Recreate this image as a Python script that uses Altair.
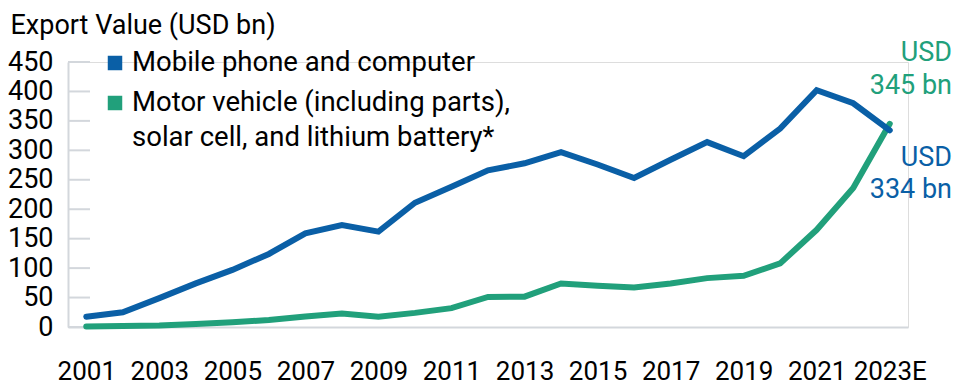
import altair as alt
import pandas as pd

years = ["2001", "2002", "2003", "2004", "2005", "2006", "2007", "2008", "2009",
         "2010", "2011", "2012", "2013", "2014", "2015", "2016", "2017", "2018",
         "2019", "2020", "2021", "2022", "2023E"]
mobile = [17.5, 25, 49, 74, 97, 124, 159, 173, 162, 211, 238, 266, 278, 297,
          276, 253, 284, 314, 290, 337, 402, 380, 334]
motor = [1, 1.5, 2.5, 5, 8, 12, 18, 23, 17.5, 24, 32, 51, 51.5, 74, 70, 67,
         74, 83, 87, 108, 165, 236, 345]
series = ["Mobile phone and computer",
          "Motor vehicle (including parts), solar cell, and lithium battery*"]
legend_lines = [["Mobile phone and computer"],
                ["Motor vehicle (including parts),", "solar cell, and lithium battery*"]]
x_labels = ["2001", "2003", "2005", "2007", "2009", "2011", "2013", "2015",
            "2017", "2019", "2021", "2023E"]
y_ticks = [0, 50, 100, 150, 200, 250, 300, 350, 400, 450]
end_labels = [["USD", "345 bn"], ["USD", "334 bn"]]

BLUE = "#0a5fa6"
GREEN = "#21a07b"
GRAY = "#d3d7dc"
FONT = "Roboto"
FS = 27

df_blue = pd.DataFrame({"year": years, "value": mobile, "series": series[0]})
df_green = pd.DataFrame({"year": years, "value": motor, "series": series[1]})
df_ticks = pd.DataFrame({"value": y_ticks})
one = pd.DataFrame({"k": [0]})

x_enc = alt.X("year:O", sort=years,
              scale=alt.Scale(type="point", padding=0.5),
              axis=alt.Axis(values=x_labels, labelAngle=0, title=None, ticks=False,
                            grid=False, domainColor=GRAY, domainWidth=2,
                            labelFontSize=26, labelPadding=31, labelColor="black",
                            labelFont=FONT))
y_enc = alt.Y("value:Q", scale=alt.Scale(domain=[0, 450], nice=False, zero=True),
              axis=alt.Axis(values=y_ticks, ticks=False, grid=False,
                            domainColor=GRAY, domainWidth=2,
                            labelFontSize=FS, labelPadding=15, labelColor="black",
                            labelFont=FONT,
                            title="Export Value (USD bn)", titleAngle=0,
                            titleX=-58, titleY=-37, titleAlign="left",
                            titleBaseline="middle", titleFontSize=27,
                            titleFontWeight="normal", titleColor="black",
                            titleFont=FONT))

ticks = alt.Chart(df_ticks).mark_rule(color=GRAY, strokeWidth=2).encode(
    y=y_enc, x=alt.value(0), x2=alt.value(22))

green_line = alt.Chart(df_green).mark_line(color=GREEN, strokeWidth=6, strokeCap="round").encode(
    x=x_enc, y=y_enc)
blue_line = alt.Chart(df_blue).mark_line(color=BLUE, strokeWidth=6, strokeCap="round").encode(
    x=x_enc, y=y_enc)


def txt(text, x, y, color, align="left", size=FS):
    return alt.Chart(one).mark_text(
        align=align, baseline="middle", fontSize=size, font=FONT, color=color
    ).encode(x=alt.value(x), y=alt.value(y), text=alt.value(text))


def sq(y, color):
    return alt.Chart(one).mark_square(size=210, color=color, opacity=1).encode(
        x=alt.value(47), y=alt.value(y))


LFS = 27.5
legend = [
    sq(1, BLUE),
    txt(legend_lines[0][0], 64, 1, "black", size=LFS),
    sq(41, GREEN),
    txt(legend_lines[1][0], 64, 41, "black", size=LFS),
    txt(legend_lines[1][1], 64, 76, "black", size=LFS),
]

annot = [
    txt(end_labels[0][0], 884, -9, GREEN, align="right"),
    txt(end_labels[0][1], 884, 24, GREEN, align="right"),
    txt(end_labels[1][0], 884, 96, BLUE, align="right"),
    txt(end_labels[1][1], 884, 128, BLUE, align="right"),
]

chart = alt.layer(ticks, green_line, blue_line, *legend, *annot).properties(
    width=840, height=265,
    autosize=alt.AutoSizeParams(type="none"),
    padding={"left": 60, "top": 54, "right": 44, "bottom": 57},
).configure_view(stroke=None).configure(font=FONT)

chart.save("out.html", embed_options={"renderer": "svg", "actions": False})
